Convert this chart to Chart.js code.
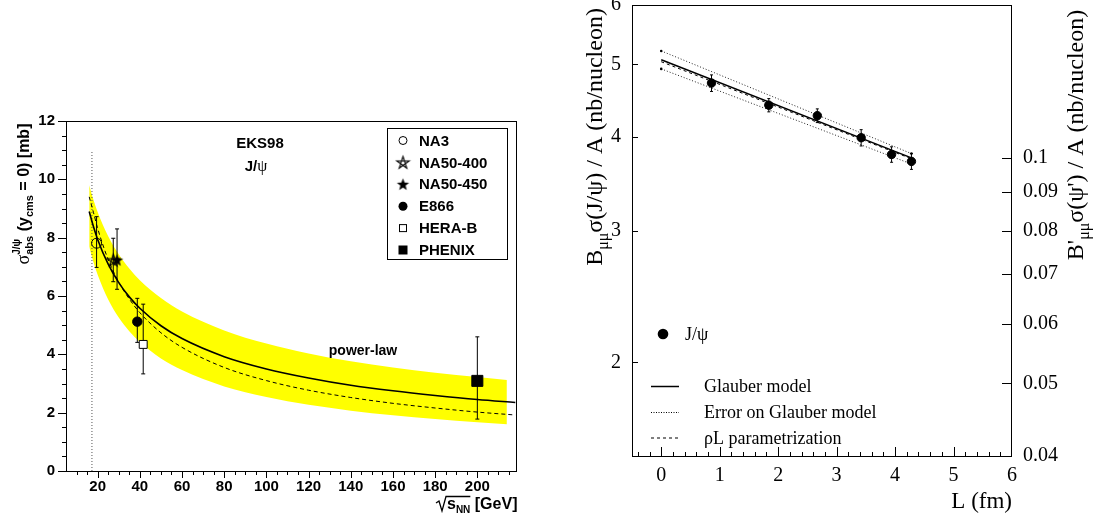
<!DOCTYPE html>
<html>
<head>
<meta charset="utf-8">
<script src="https://cdn.jsdelivr.net/npm/chart.js@4.4.0/dist/chart.umd.min.js"></script>
<style>
  body { margin: 0; background: #fff; }
  #wrap { position: relative; width: 1101px; height: 521px; overflow: hidden; background: #fff; }
  canvas { position: absolute; }
</style>
</head>
<body>
<div id="wrap">
  <canvas id="absChart" width="550" height="521" style="left:0;top:0"></canvas>
  <canvas id="lenChart" width="551" height="541" style="left:550px;top:-20px"></canvas>
</div>
<script>
// ===============================
// 1. DATA - left: sigma_abs vs sqrt(s_NN)
// ===============================
const expNames = ["NA3", "NA50-400", "NA50-450", "E866", "HERA-B", "PHENIX"];
const expSqrtS = [19.5, 27.4, 29.2, 38.8, 41.6, 200];
const expSigma = [7.81, 7.23, 7.23, 5.12, 4.34, 3.09];
const expErrLow = [6.98, 6.49, 6.23, 4.41, 3.33, 1.78];
const expErrHigh = [8.72, 7.98, 8.30, 5.92, 5.72, 4.60];

const curveSqrtS = [16, 18, 20, 25, 30, 35, 40, 50, 60, 80, 100, 120, 140, 160, 180, 200, 218];
const powerLaw = [8.90, 8.38, 7.94, 7.09, 6.46, 5.97, 5.58, 4.98, 4.54, 3.92, 3.50, 3.19, 2.94, 2.75, 2.59, 2.45, 2.35];
const dashedCurve = [9.40, 8.87, 8.32, 7.25, 6.48, 5.90, 5.43, 4.74, 4.24, 3.55, 3.10, 2.77, 2.52, 2.32, 2.16, 2.02, 1.92];

const bandSqrtS = [16, 18, 20, 25, 30, 35, 40, 50, 60, 80, 100, 120, 140, 160, 180, 200, 214];
const bandHigh = [9.80, 9.30, 8.88, 8.05, 7.43, 6.94, 6.54, 5.93, 5.47, 4.82, 4.37, 4.03, 3.76, 3.55, 3.37, 3.22, 3.12];
const bandLow = [7.70, 7.17, 6.73, 5.88, 5.26, 4.79, 4.42, 3.86, 3.46, 2.90, 2.54, 2.27, 2.07, 1.91, 1.78, 1.67, 1.60];

const spsLineX = [17.3, 17.3];
const spsLineY = [0, 11];

const sqrtSTicks = [20, 40, 60, 80, 100, 120, 140, 160, 180, 200];
const sigmaTicks = [0, 2, 4, 6, 8, 10, 12];

// ===============================
// 2. DATA - right: cross section vs L
// ===============================
const pathL = [0.86, 1.84, 2.67, 3.42, 3.94, 4.28];
const jpsiSigma = [4.72, 4.41, 4.27, 3.99, 3.79, 3.71];
const jpsiErr = [0.12, 0.09, 0.09, 0.10, 0.09, 0.09];

const modelL = [0, 4.28];
const glauber = [5.07, 3.75];
const glauberHigh = [5.21, 3.80];
const glauberLow = [4.93, 3.68];
const rhoL = [5.04, 3.74];

const lTicks = [0, 1, 2, 3, 4, 5, 6];
const jpsiTicks = [2, 3, 4, 5, 6];
const psiPrimeTicks = [0.04, 0.05, 0.06, 0.07, 0.08, 0.09, 0.1];

// ===============================
// helpers
// ===============================
const SANS = "'Liberation Sans', Arial, sans-serif";
const SERIF = "'Liberation Serif', 'Times New Roman', serif";

function pts(xs, ys) {
    return xs.map((x, i) => ({x, y: ys[i]}));
}

function starImage(r, filled) {
    const s = Math.ceil(2 * r + 4);
    const c = document.createElement("canvas");
    c.width = s; c.height = s;
    const g = c.getContext("2d");
    g.translate(s / 2, s / 2 + 0.5);
    g.beginPath();
    if (filled) {
        for (let k = 0; k < 10; k++) {
            const a = -Math.PI / 2 + k * Math.PI / 5;
            const rr = k % 2 ? r * 0.42 : r;
            if (k === 0) g.moveTo(rr * Math.cos(a), rr * Math.sin(a));
            else g.lineTo(rr * Math.cos(a), rr * Math.sin(a));
        }
        g.closePath();
        g.fillStyle = "#000";
        g.fill();
    } else {
        [0, 2, 4, 1, 3].forEach((k, i) => {
            const a = -Math.PI / 2 + k * 2 * Math.PI / 5;
            if (i === 0) g.moveTo(r * Math.cos(a), r * Math.sin(a));
            else g.lineTo(r * Math.cos(a), r * Math.sin(a));
        });
        g.closePath();
        g.strokeStyle = "#000";
        g.lineWidth = 1.1;
        g.stroke();
    }
    return c;
}

// draw a row of text pieces (sub/superscripts), "hold" = no advance
function drawParts(ctx, parts, x, y, align) {
    let w = 0;
    parts.forEach(p => {
        ctx.font = p.f;
        p.w = ctx.measureText(p.t).width;
        if (!p.hold) w += p.w;
    });
    let cx = align === "right" ? x - w : align === "center" ? x - w / 2 : x;
    ctx.textAlign = "left";
    ctx.textBaseline = "alphabetic";
    parts.forEach(p => {
        ctx.font = p.f;
        ctx.fillText(p.t, cx, y + (p.dy || 0));
        if (!p.hold) cx += p.w;
    });
    return cx;
}

function drawRotated(ctx, parts, baseX, centerY) {
    ctx.save();
    ctx.translate(baseX, centerY);
    ctx.rotate(-Math.PI / 2);
    drawParts(ctx, parts, 0, 0, "center");
    ctx.restore();
}

function fixedTicks(values) {
    return scale => { scale.ticks = values.map(v => ({value: v})); };
}

// ===============================
// 3. LEFT CHART
// ===============================
const openStar = starImage(6.5, false);
const fullStar = starImage(6.5, true);

const markerStyles = [
    {pointStyle: "circle", pointRadius: 5, pointBackgroundColor: "rgba(0,0,0,0)", pointBorderColor: "#000", pointBorderWidth: 1},
    {pointStyle: openStar},
    {pointStyle: fullStar},
    {pointStyle: "circle", pointRadius: 4.7, pointBackgroundColor: "#000", pointBorderColor: "#000", pointBorderWidth: 1},
    {pointStyle: "rect", pointRadius: 5.6, pointBackgroundColor: "#fff", pointBorderColor: "#000", pointBorderWidth: 1},
    {pointStyle: "rect", pointRadius: 7.8, pointBackgroundColor: "#000", pointBorderColor: "#000", pointBorderWidth: 1}
];

const smooth = {showLine: true, pointRadius: 0, tension: 0.4, cubicInterpolationMode: "monotone"};

const absDatasets = [
    Object.assign({data: pts(bandSqrtS, bandHigh), fill: "+1", backgroundColor: "#ffff00",
        borderColor: "rgba(0,0,0,0)", borderWidth: 0, order: 9}, smooth),
    Object.assign({data: pts(bandSqrtS, bandLow), fill: false,
        borderColor: "rgba(0,0,0,0)", borderWidth: 0, order: 9}, smooth),
    {data: pts(spsLineX, spsLineY), showLine: true, pointRadius: 0, borderColor: "#555",
        borderWidth: 1, borderDash: [1, 2], order: 8},
    Object.assign({data: pts(curveSqrtS, dashedCurve), borderColor: "#000", borderWidth: 1,
        borderDash: [4, 3], order: 7}, smooth),
    Object.assign({data: pts(curveSqrtS, powerLaw), borderColor: "#000", borderWidth: 1.6, order: 7}, smooth)
];

expNames.forEach((name, i) => {
    absDatasets.push({
        label: name + " error",
        data: [{x: expSqrtS[i], y: expErrLow[i]}, {x: expSqrtS[i], y: expErrHigh[i]}],
        showLine: true, borderColor: "#000", borderWidth: 1,
        pointStyle: "line", pointRadius: 2, pointBorderColor: "#000", pointBorderWidth: 1, order: 6
    });
});
expNames.forEach((name, i) => {
    absDatasets.push(Object.assign({label: name, data: [{x: expSqrtS[i], y: expSigma[i]}], order: 1}, markerStyles[i]));
});

const absDecor = {
    id: "absDecor",
    afterDraw(chart) {
        const {ctx, chartArea: a, scales: {x, y}} = chart;
        ctx.save();
        ctx.strokeStyle = "#000";
        ctx.fillStyle = "#000";
        ctx.lineWidth = 1;
        ctx.strokeRect(a.left + 0.5, a.top + 0.5, a.right - a.left - 1, a.bottom - a.top);

        // tick marks
        ctx.beginPath();
        for (let v = 0; v <= 12; v += 0.5) {
            const py = Math.round(y.getPixelForValue(v)) + 0.5;
            const len = v % 2 === 0 ? 8 : 4;
            ctx.moveTo(a.left, py);
            ctx.lineTo(a.left - len, py);
        }
        for (let v = 10; v <= 215; v += 5) {
            const px = Math.round(x.getPixelForValue(v)) + 0.5;
            const len = v % 20 === 0 ? 7 : 4;
            ctx.moveTo(px, a.bottom);
            ctx.lineTo(px, a.bottom + len);
        }
        ctx.stroke();

        // y title
        drawRotated(ctx, [
            {t: "σ", f: "18px " + SERIF},
            {t: "J/ψ", f: "bold 10px " + SANS, dy: -9, hold: true},
            {t: "abs", f: "bold 11px " + SANS, dy: 4},
            {t: " (y", f: "bold 16px " + SANS},
            {t: "cms", f: "bold 11px " + SANS, dy: 4},
            {t: " = 0) [mb]", f: "bold 16px " + SANS}
        ], 29, 194);

        // x title with root sign
        const endX = drawParts(ctx, [
            {t: "s", f: "bold 16px " + SANS},
            {t: "NN", f: "bold 10px " + SANS, dy: 4}
        ], 447, 509, "left");
        ctx.font = "bold 16px " + SANS;
        ctx.textAlign = "left";
        ctx.fillText(" [GeV]", endX, 509);
        ctx.beginPath();
        ctx.lineWidth = 1.3;
        ctx.moveTo(436, 503);
        ctx.lineTo(439, 501);
        ctx.lineTo(442, 511);
        ctx.lineTo(446, 496.5);
        ctx.lineTo(endX, 496.5);
        ctx.stroke();
        ctx.lineWidth = 1;

        // labels in the frame
        ctx.textAlign = "center";
        ctx.font = "bold 15px " + SANS;
        ctx.fillText("EKS98", 260, 148);
        drawParts(ctx, [
            {t: "J/", f: "bold 15px " + SANS},
            {t: "ψ", f: "16px " + SERIF}
        ], 256, 171, "center");
        ctx.textAlign = "center";
        ctx.font = "bold 14px " + SANS;
        ctx.fillText("power-law", 363, 355);

        // legend box
        ctx.strokeRect(387.5, 128.5, 120, 131);
        ctx.textAlign = "left";
        ctx.textBaseline = "middle";
        ctx.font = "bold 15px " + SANS;
        expNames.forEach((name, i) => {
            const ry = 140.5 + 21.9 * i;
            const mx = 403;
            ctx.fillText(name, 419, ry + 1);
            if (i === 0) {
                ctx.beginPath(); ctx.arc(mx, ry, 4, 0, 2 * Math.PI); ctx.stroke();
            } else if (i === 1) {
                ctx.drawImage(openStar, mx - openStar.width / 2, ry - openStar.height / 2);
            } else if (i === 2) {
                ctx.drawImage(fullStar, mx - fullStar.width / 2, ry - fullStar.height / 2);
            } else if (i === 3) {
                ctx.beginPath(); ctx.arc(mx, ry, 4.5, 0, 2 * Math.PI); ctx.fill();
            } else if (i === 4) {
                ctx.strokeRect(mx - 3.5, ry - 3.5, 7, 7);
            } else {
                ctx.fillRect(mx - 4.5, ry - 4.5, 9, 9);
            }
        });
        ctx.restore();
    }
};

new Chart(document.getElementById("absChart"), {
    type: "scatter",
    data: {datasets: absDatasets},
    options: {
        responsive: false,
        animation: false,
        devicePixelRatio: 1,
        events: [],
        layout: {padding: {top: 121, right: 33, left: 0, bottom: 0}},
        plugins: {legend: {display: false}, tooltip: {enabled: false}},
        scales: {
            x: {
                type: "linear", min: 5, max: 218.8, bounds: "data",
                afterBuildTicks: fixedTicks(sqrtSTicks),
                afterFit: s => { s.height = 50; },
                grid: {display: false, drawTicks: false},
                border: {display: false},
                ticks: {color: "#000", font: {family: SANS, size: 15, weight: "bold"}, padding: 7,
                    maxRotation: 0, autoSkip: false, callback: v => String(v)}
            },
            y: {
                type: "linear", min: 0, max: 12, bounds: "data",
                afterBuildTicks: fixedTicks(sigmaTicks),
                afterFit: s => { s.width = 66; },
                grid: {display: false, drawTicks: false},
                border: {display: false},
                ticks: {color: "#000", font: {family: SANS, size: 15, weight: "bold"}, padding: 11,
                    autoSkip: false, callback: v => String(v)}
            }
        }
    },
    plugins: [absDecor]
});

// ===============================
// 4. RIGHT CHART
// ===============================
const lenDatasets = [
    {data: pts(modelL, glauberHigh), showLine: true, borderColor: "#222", borderWidth: 1, borderDash: [1, 2],
        pointRadius: 1.3, pointBackgroundColor: "#000", pointBorderWidth: 0, order: 5},
    {data: pts(modelL, glauberLow), showLine: true, borderColor: "#222", borderWidth: 1, borderDash: [1, 2],
        pointRadius: 1.3, pointBackgroundColor: "#000", pointBorderWidth: 0, order: 5},
    {data: pts(modelL, rhoL), showLine: true, borderColor: "#000", borderWidth: 1, borderDash: [3, 3],
        pointRadius: 0, order: 4},
    {data: pts(modelL, glauber), showLine: true, borderColor: "#000", borderWidth: 1.5,
        pointRadius: 0, order: 3}
];
pathL.forEach((l, i) => {
    lenDatasets.push({
        data: [{x: l, y: jpsiSigma[i] - jpsiErr[i]}, {x: l, y: jpsiSigma[i] + jpsiErr[i]}],
        showLine: true, borderColor: "#000", borderWidth: 1,
        pointStyle: "line", pointRadius: 1.5, pointBorderColor: "#000", pointBorderWidth: 1, order: 2
    });
});
lenDatasets.push({label: "J/ψ", data: pts(pathL, jpsiSigma), pointStyle: "circle", pointRadius: 4.2,
    pointBackgroundColor: "#000", pointBorderColor: "#000", order: 1});

const lenDecor = {
    id: "lenDecor",
    afterDraw(chart) {
        const {ctx, chartArea: a, scales: {x, y, y2}} = chart;
        ctx.save();
        ctx.strokeStyle = "#000";
        ctx.fillStyle = "#000";
        ctx.lineWidth = 1;
        ctx.strokeRect(a.left + 0.5, a.top + 0.5, a.right - a.left - 1, a.bottom - a.top);

        ctx.beginPath();
        [2, 3, 4, 5].forEach(v => {
            const py = Math.round(y.getPixelForValue(v)) + 0.5;
            ctx.moveTo(a.left, py);
            ctx.lineTo(a.left + 6, py);
        });
        psiPrimeTicks.forEach(v => {
            const py = Math.round(y2.getPixelForValue(v)) + 0.5;
            ctx.moveTo(a.right, py);
            ctx.lineTo(a.right - 10, py);
        });
        for (let k = -2; k <= 29; k++) {
            const px = Math.round(x.getPixelForValue(k / 5)) + 0.5;
            const len = k % 5 === 0 ? 9 : 4;
            ctx.moveTo(px, a.bottom);
            ctx.lineTo(px, a.bottom - len);
        }
        ctx.stroke();

        // page coordinates from here
        ctx.translate(-550, 20);

        drawRotated(ctx, [
            {t: "B", f: "24px " + SERIF},
            {t: "μμ", f: "16px " + SERIF, dy: 6},
            {t: "σ(J/ψ) / A (nb/nucleon)", f: "24px " + SERIF}
        ], 602, 137);
        drawRotated(ctx, [
            {t: "B'", f: "24px " + SERIF},
            {t: "μμ", f: "16px " + SERIF, dy: 6},
            {t: "σ(ψ') / A (nb/nucleon)", f: "24px " + SERIF}
        ], 1083, 135);

        ctx.font = "23px " + SERIF;
        ctx.textAlign = "right";
        ctx.textBaseline = "alphabetic";
        ctx.fillText("L (fm)", 1012, 508);

        // legend
        ctx.beginPath();
        ctx.arc(663, 334, 5.3, 0, 2 * Math.PI);
        ctx.fill();
        ctx.font = "18px " + SERIF;
        ctx.textAlign = "left";
        ctx.textBaseline = "middle";
        ctx.fillText("J/ψ", 685, 335);

        const rows = [
            {y: 386.5, text: "Glauber model", dash: [], w: 1.5},
            {y: 412.5, text: "Error on Glauber model", dash: [1, 1.5], w: 1},
            {y: 438, text: "ρL parametrization", dash: [3, 3], w: 1}
        ];
        rows.forEach(r => {
            ctx.beginPath();
            ctx.setLineDash(r.dash);
            ctx.lineWidth = r.w;
            ctx.moveTo(651, r.y);
            ctx.lineTo(679, r.y);
            ctx.stroke();
            ctx.setLineDash([]);
            ctx.fillText(r.text, 704, r.y + 1);
        });
        ctx.restore();
    }
};

const serifTicks = {color: "#000", font: {family: SERIF, size: 20}, autoSkip: false, callback: v => String(v)};

new Chart(document.getElementById("lenChart"), {
    type: "scatter",
    data: {datasets: lenDatasets},
    options: {
        responsive: false,
        animation: false,
        devicePixelRatio: 1,
        events: [],
        layout: {padding: {top: 25, right: 0, left: 0, bottom: 0}},
        plugins: {legend: {display: false}, tooltip: {enabled: false}},
        scales: {
            x: {
                type: "linear", min: -0.5, max: 6, bounds: "data",
                afterBuildTicks: fixedTicks(lTicks),
                afterFit: s => { s.height = 65; },
                grid: {display: false, drawTicks: false},
                border: {display: false},
                ticks: Object.assign({padding: 8, maxRotation: 0}, serifTicks)
            },
            y: {
                type: "logarithmic", position: "left", min: 1.5, max: 6, bounds: "data",
                afterBuildTicks: fixedTicks(jpsiTicks),
                afterFit: s => { s.width = 82; },
                grid: {display: false, drawTicks: false},
                border: {display: false},
                ticks: Object.assign({padding: 11}, serifTicks)
            },
            y2: {
                type: "logarithmic", position: "right", min: 0.04, max: 0.16, bounds: "data",
                afterBuildTicks: fixedTicks(psiPrimeTicks),
                afterFit: s => { s.width = 89; },
                grid: {display: false, drawTicks: false},
                border: {display: false},
                ticks: Object.assign({padding: 11}, serifTicks)
            }
        }
    },
    plugins: [lenDecor]
});
</script>
</body>
</html>
